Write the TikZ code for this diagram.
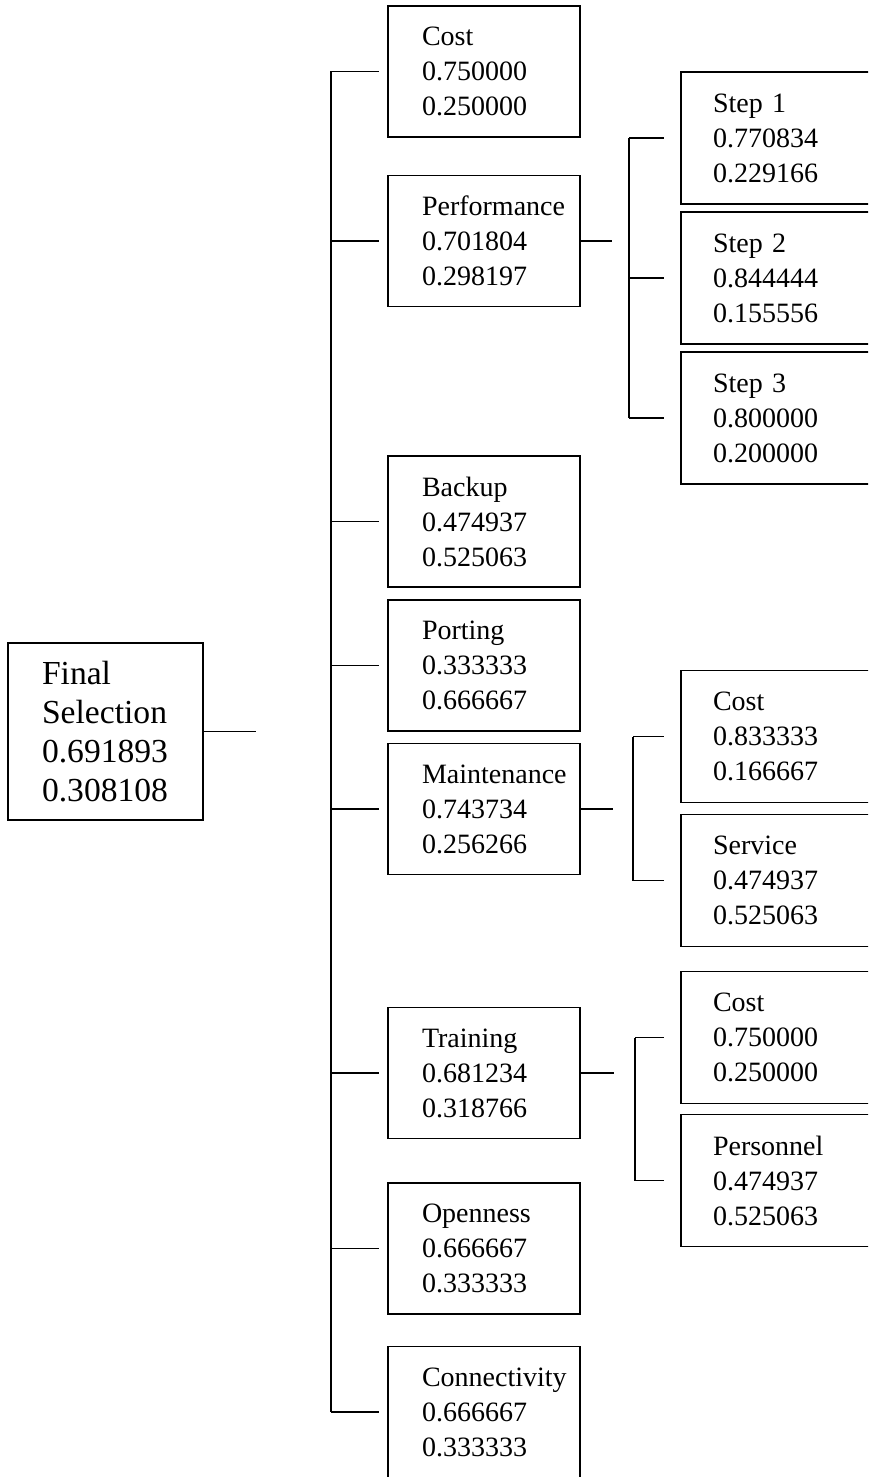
\documentclass[tikz,border=0pt]{standalone}
\usepackage{fontspec}
\setmainfont{Liberation Serif}
\usetikzlibrary{positioning}

\begin{document}
\begin{tikzpicture}[
  x=0.5pt, y=-0.5pt,
  crit/.style={draw, line width=0.9pt, minimum width=96pt, minimum height=65.5pt,
    text width=62pt, inner xsep=17pt, inner ysep=0pt, align=left,
    font=\fontsize{14}{17.5}\selectfont},
  sub/.style={crit, minimum width=100pt, minimum height=66pt,
    text width=68pt, inner xsep=16pt},
  goal/.style={crit, minimum width=97.5pt, minimum height=88.5pt,
    text width=63.5pt, font=\fontsize{16.8}{19.5}\selectfont},
  link/.style={line width=0.9pt},
  tick/.style={link, shorten >=4pt},
  subtick/.style={link, shorten >=8pt}
]
  \clip (0,0) rectangle (868,1477);

  % Wurzel
  \node[goal] (final) at (105.5,731.5) {Final\\Selection\\0.691893\\0.308108};

  % Kriterien (erste Ebene)
  \node[crit] (cost)     at (484,71.5)  {Cost\\0.750000\\0.250000};
  \node[crit] (perf)     at (484,241)   {Performance\\0.701804\\0.298197};
  \node[crit] (backup)   at (484,521.5) {Backup\\0.474937\\0.525063};
  \node[crit] (porting)  at (484,665.5) {Porting\\0.333333\\0.666667};
  \node[crit] (maint)    at (484,809)   {Maintenance\\0.743734\\0.256266};
  \node[crit] (training) at (484,1073)  {Training\\0.681234\\0.318766};
  \node[crit] (open)     at (484,1248.5){Openness\\0.666667\\0.333333};
  \node[crit] (conn)     at (484,1412)  {Connectivity\\0.666667\\0.333333};

  % Unterkriterien (zweite Ebene)
  \node[sub] (step1)    at (781,138)    {Step 1\\0.770834\\0.229166};
  \node[sub] (step2)    at (781,278)    {Step 2\\0.844444\\0.155556};
  \node[sub] (step3)    at (781,418)    {Step 3\\0.800000\\0.200000};
  \node[sub] (mcost)    at (781,736.5)  {Cost\\0.833333\\0.166667};
  \node[sub] (service)  at (781,880.5)  {Service\\0.474937\\0.525063};
  \node[sub] (tcost)    at (781,1037.5) {Cost\\0.750000\\0.250000};
  \node[sub] (staff)    at (781,1180.5) {Personnel\\0.474937\\0.525063};

  % Stichleitungen und Klammern
  \coordinate (rootend) at (256,0);
  \coordinate (trunk)   at (331,0);
  \coordinate (perfend) at (612,0);
  \coordinate (perfbr)  at (629,0);
  \coordinate (maintend) at (613,0);
  \coordinate (maintbr) at (633,0);
  \coordinate (trainend) at (614,0);
  \coordinate (trainbr) at (635,0);

  \draw[link] (final.east) -- (rootend |- final.east);
  \draw[link] (trunk |- cost.west) -- (trunk |- conn.west);
  \foreach \c in {cost,perf,backup,porting,maint,training,open,conn}
    \draw[tick] (trunk |- \c.west) -- (\c.west);

  \draw[link] (perf.east) -- (perfend |- perf.east);
  \draw[link] (perfbr |- step1.west) -- (perfbr |- step3.west);
  \foreach \c in {step1,step2,step3}
    \draw[subtick] (perfbr |- \c.west) -- (\c.west);

  \draw[link] (maint.east) -- (maintend |- maint.east);
  \draw[link] (maintbr |- mcost.west) -- (maintbr |- service.west);
  \foreach \c in {mcost,service}
    \draw[subtick] (maintbr |- \c.west) -- (\c.west);

  \draw[link] (training.east) -- (trainend |- training.east);
  \draw[link] (trainbr |- tcost.west) -- (trainbr |- staff.west);
  \foreach \c in {tcost,staff}
    \draw[subtick] (trainbr |- \c.west) -- (\c.west);
\end{tikzpicture}
\end{document}
